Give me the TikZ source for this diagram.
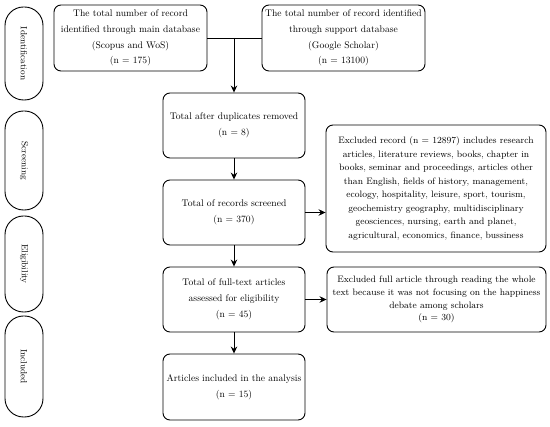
\documentclass[tikz,border=0pt]{standalone}
\usetikzlibrary{arrows.meta,positioning,calc}
\begin{document}
\begin{tikzpicture}[x=1pt,y=-1pt,
  box/.style={draw,line width=0.9pt,rounded corners=7pt,align=center,inner sep=0pt,
    font=\fontsize{9.6}{15.8}\selectfont},
  exbox/.style={box,font=\fontsize{9.3}{13.5}\selectfont},
  exboxb/.style={box,font=\fontsize{9.3}{12.8}\selectfont},
  pill/.style={draw,line width=0.9pt,rounded corners=18.5pt,rotate=-90,inner sep=0pt,
    minimum height=38pt,font=\fontsize{9}{10}\selectfont},
  conn/.style={line width=0.9pt},
  arr/.style={conn,-{Stealth[length=7pt,width=6.5pt]}}
]
\useasboundingbox (0,0) rectangle (550,427);
% phase pills
\node[pill,minimum width=93pt] (pid) at (24,53.5) {Identification};
\node[pill,minimum width=99pt] (psc) at (24,160.5) {Screening};
\node[pill,minimum width=96pt] (pel) at (24,264) {Eligibility};
\node[pill,minimum width=101pt] (pin) at (24,366.5) {Included};
% boxes
\node[box,minimum width=153pt,minimum height=66pt] (b1) at (130.5,38)
  {The total number of record\\identified through main database\\(Scopus and WoS)\\(n = 175)};
\node[box,minimum width=163pt,minimum height=66pt] (b2) at (343.5,38)
  {The total number of record identified\\through support database\\(Google Scholar)\\(n = 13100)};
\node[box,minimum width=142pt,minimum height=65pt] (b3) at (234,125.5)
  {Total after duplicates removed\\(n = 8)};
\node[box,minimum width=142pt,minimum height=65pt] (b4) at (234,212.5)
  {Total of records screened\\(n = 370)};
\node[box,minimum width=142pt,minimum height=65pt] (b5) at (234,299.5)
  {Total of full-text articles\\assessed for eligibility\\(n = 45)};
\node[box,minimum width=142pt,minimum height=66pt] (b6) at (234,387)
  {Articles included in the analysis\\(n = 15)};
\node[exbox,minimum width=220pt,minimum height=127pt] (e1) at (436,188.5)
  {Excluded record (n = 12897) includes research\\articles, literature reviews, books, chapter in\\books, seminar and proceedings, articles other\\than English, fields of history, management,\\ecology, hospitality, leisure, sport, tourism,\\geochemistry geography, multidisciplinary\\geosciences, nursing, earth and planet,\\agricultural, economics, finance, bussiness};
\node[exboxb,minimum width=219pt,minimum height=65pt] (e2) at (436.5,299.5)
  {Excluded full article through reading the whole\\text because it was not focusing on the happiness\\debate among scholars\\(n = 30)};
% connectors
\draw[conn] (b1.east) -- (b2.west);
\coordinate (j) at (b3.north |- b1.east);
\draw[arr] (j) -- (b3.north);
\draw[arr] (b3) -- (b4);
\draw[arr] (b4) -- (b5);
\draw[arr] (b5) -- (b6);
\draw[arr] (b4.east) -- (e1.west |- b4.east);
\draw[arr] (b5.east) -- (e2.west |- b5.east);
\end{tikzpicture}
\end{document}
